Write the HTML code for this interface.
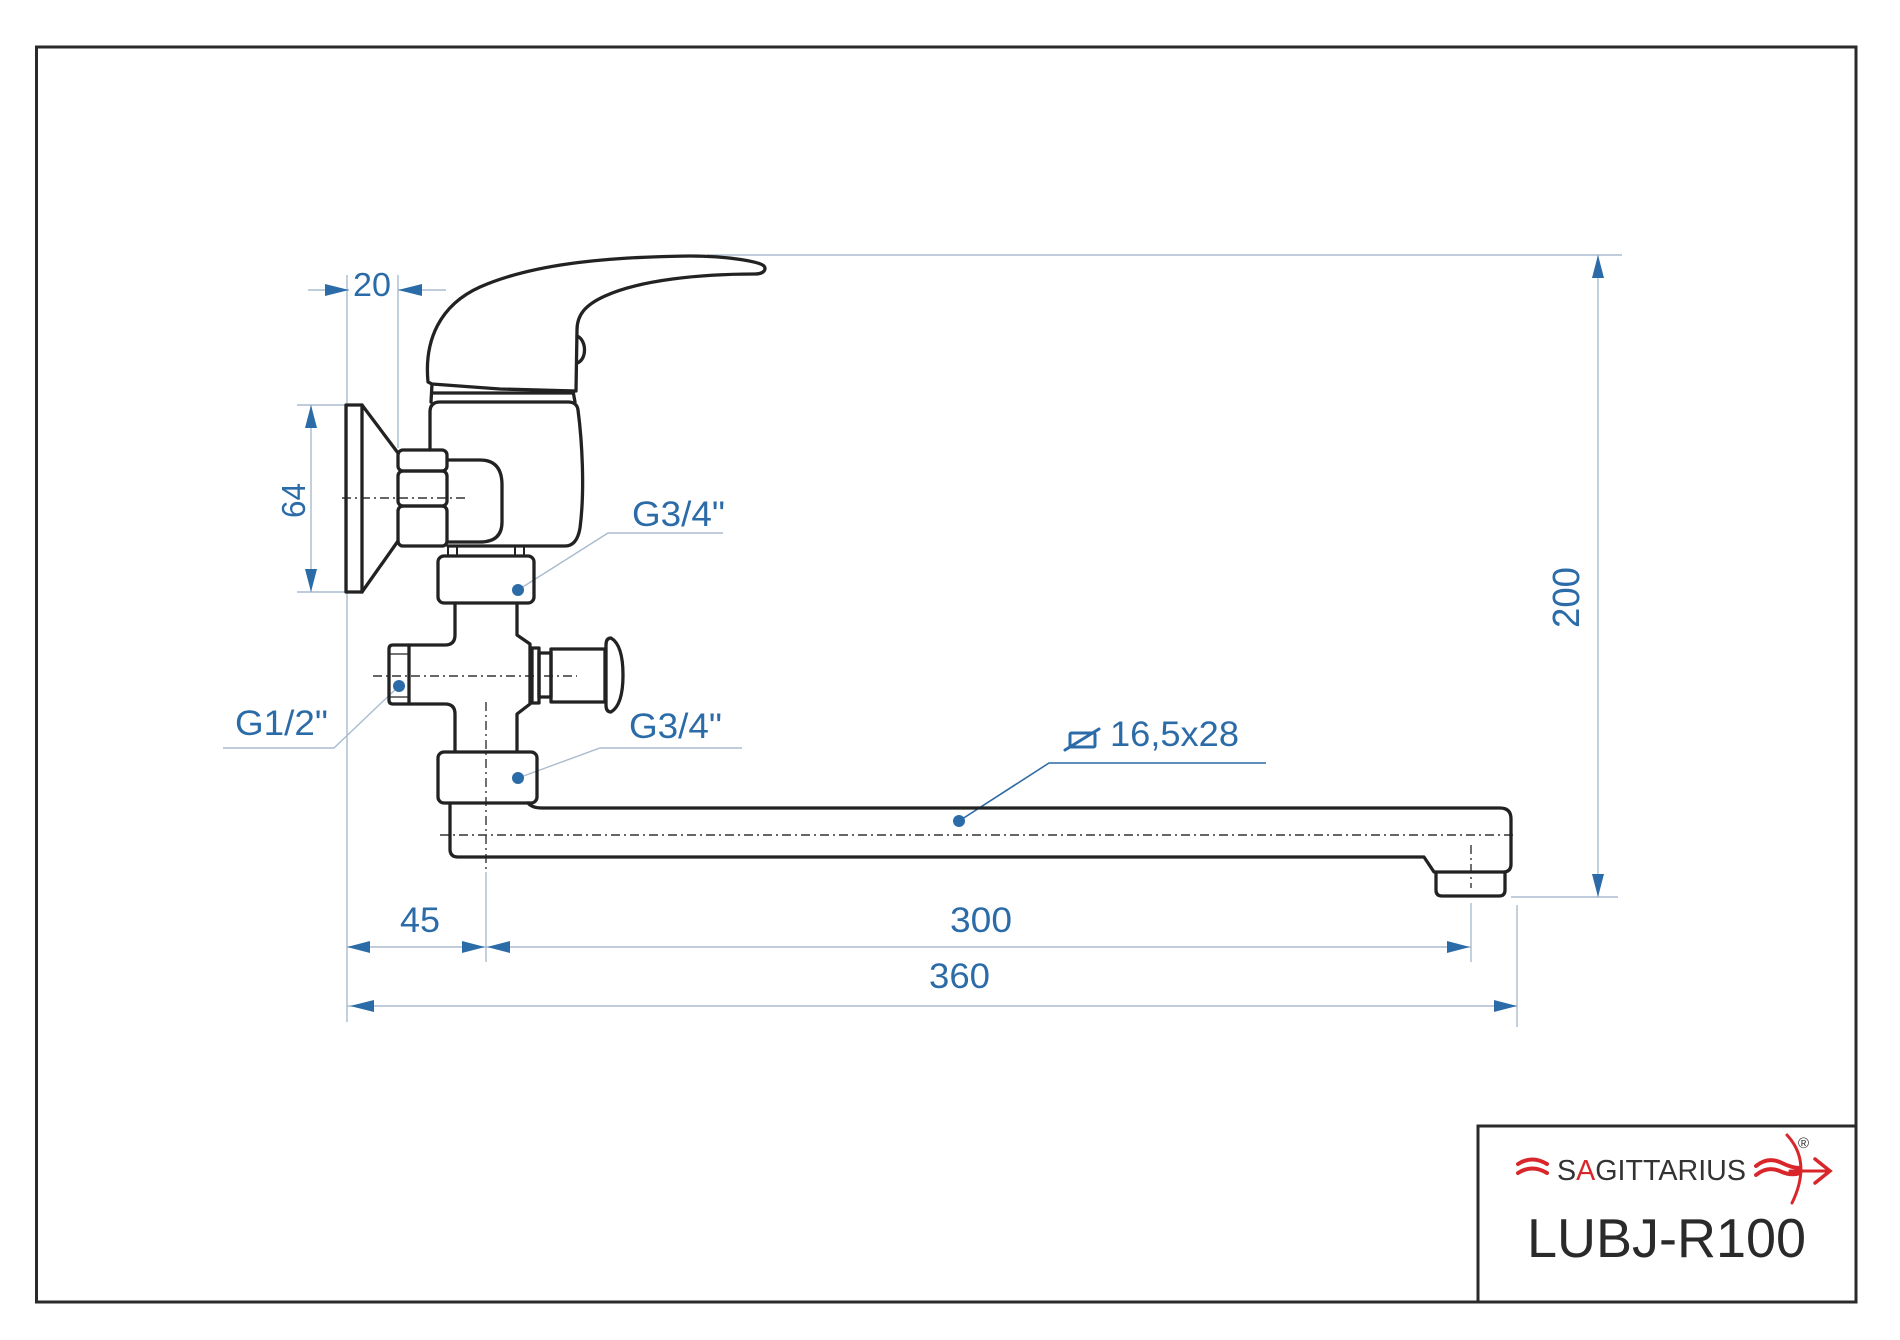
<!DOCTYPE html>
<html>
<head>
<meta charset="utf-8">
<style>
html,body{margin:0;padding:0;background:#fff;}
svg{display:block;}
text{font-family:"Liberation Sans",Arial,sans-serif;}
</style>
</head>
<body>
<svg width="1900" height="1340" viewBox="0 0 1900 1340" xmlns="http://www.w3.org/2000/svg">
<rect x="0" y="0" width="1900" height="1340" fill="#fff"/>
<!-- frame -->
<rect x="36.5" y="47" width="1819.5" height="1255" fill="none" stroke="#2a2a2a" stroke-width="3"/>
<rect x="1478" y="1126" width="378" height="176" fill="none" stroke="#2a2a2a" stroke-width="3"/>

<!-- dimension / extension lines -->
<g stroke="#a9bccf" stroke-width="1.4" fill="none">
  <line x1="308" y1="290" x2="349" y2="290"/>
  <line x1="398" y1="290" x2="446" y2="290"/>
  <line x1="347" y1="275" x2="347" y2="1022"/>
  <line x1="398" y1="275" x2="398" y2="448"/>
  <line x1="297" y1="405" x2="346" y2="405"/>
  <line x1="297" y1="592" x2="346" y2="592"/>
  <line x1="311" y1="405" x2="311" y2="592"/>
  <line x1="707" y1="255" x2="1622" y2="255"/>
  <line x1="1511" y1="897" x2="1618" y2="897"/>
  <line x1="1598" y1="255" x2="1598" y2="897"/>
  <line x1="347" y1="947" x2="1471" y2="947"/>
  <line x1="347" y1="1006" x2="1517" y2="1006"/>
  <line x1="486" y1="872" x2="486" y2="962"/>
  <line x1="1471" y1="903" x2="1471" y2="962"/>
  <line x1="1517" y1="905" x2="1517" y2="1027"/>
  <polyline points="518,590 608,533 723,533"/>
  <polyline points="399,686 334,748 223,748"/>
  <polyline points="518,778 600,748 742,748"/>
</g>
<polyline points="959,821 1049,763 1266,763" fill="none" stroke="#2d6aa5" stroke-width="1.6"/>

<!-- arrowheads -->
<g fill="#2b6ca8">
  <polygon points="349,290 325,284 325,296"/>
  <polygon points="398,290 422,284 422,296"/>
  <polygon points="311,405 305,428 317,428"/>
  <polygon points="311,592 305,569 317,569"/>
  <polygon points="1598,255 1592,278 1604,278"/>
  <polygon points="1598,897 1592,874 1604,874"/>
  <polygon points="347,947 370,941 370,953"/>
  <polygon points="485,947 462,941 462,953"/>
  <polygon points="487,947 510,941 510,953"/>
  <polygon points="1470,947 1447,941 1447,953"/>
  <polygon points="350,1006 374,1000 374,1012"/>
  <polygon points="1517,1006 1494,1000 1494,1012"/>
  <circle cx="518" cy="590" r="6"/>
  <circle cx="399" cy="686" r="6"/>
  <circle cx="518" cy="778" r="6"/>
  <circle cx="959" cy="821" r="6"/>
</g>

<!-- centerlines -->
<g stroke="#333" stroke-width="1.4" fill="none" stroke-dasharray="9 4 2 4">
  <line x1="342" y1="498" x2="468" y2="498"/>
  <line x1="373" y1="676" x2="577" y2="676"/>
  <line x1="486" y1="702" x2="486" y2="870"/>
  <line x1="440" y1="835" x2="1515" y2="835"/>
  <line x1="1471" y1="845" x2="1471" y2="888"/>
</g>

<!-- faucet outline -->
<g stroke="#222" stroke-width="3.3" fill="none" stroke-linejoin="round" stroke-linecap="round">
  <path d="M428,382 C424,340 440,305 480,287 C530,265 600,257 690,256 C730,256 760,262 764,266 C767,270 763,274 755,274 C700,274 640,280 605,296 C585,305 577,315 577,330 L576,391 L500,389 L432,384 Z"/>
  <path d="M577,336 C587,340 587,360 577,363"/>
  <path d="M432,384 L431,402"/>
  <line x1="432" y1="393" x2="573" y2="393"/>
  <line x1="573" y1="391" x2="575" y2="402"/>
  <path d="M430,450 L430,412 Q430,402 440,402 L568,402 Q577,402 578,410 C582,440 585,490 580,528 Q577,546 565,546 L448,546"/>
  <path d="M448,460 L480,460 Q502,460 502,485 L502,522 Q502,542 480,542 L448,542"/>
  <rect x="346" y="405" width="16" height="187"/>
  <line x1="362" y1="405" x2="398" y2="453"/>
  <line x1="362" y1="592" x2="398" y2="541"/>
  <rect x="398" y="450" width="49" height="21" rx="5"/>
  <rect x="398" y="471" width="49" height="35" rx="5"/>
  <rect x="398" y="506" width="49" height="40" rx="5"/>
  <rect x="448" y="546" width="9" height="10" stroke-width="2"/>
  <rect x="515" y="546" width="9" height="10" stroke-width="2"/>
  <rect x="438" y="556" width="96" height="47" rx="6"/>
  <path d="M455,603 L455,635 Q455,645 445,645 L409,645"/>
  <path d="M409,704 L445,704 Q455,704 455,714 L455,752"/>
  <path d="M517,603 L517,635 L530,644 L530,704 L517,714 L517,752"/>
  <path d="M409,645 L393,645 Q389,645 389,649 L389,700 Q389,704 393,704 L409,704 Z"/>
  <line x1="391" y1="654" x2="407" y2="654" stroke-width="1.3"/>
  <line x1="391" y1="697" x2="407" y2="697" stroke-width="1.3"/>
  <rect x="532" y="648" width="7" height="55"/>
  <rect x="539" y="653" width="12" height="44"/>
  <rect x="551" y="649" width="54" height="53"/>
  <path d="M606,645 Q606,638 611,638 Q623,645 623,675 Q623,705 611,712 Q606,712 606,705 Z"/>
  <rect x="438" y="752" width="99" height="51" rx="6"/>
  <path d="M528,803 Q532,808 542,808 L1500,808 Q1511,808 1511,819 L1511,864 Q1511,872 1503,872 L1434,872 L1424,857 L458,857 Q450,857 450,849 L450,803"/>
  <path d="M1436,872 L1436,890 Q1436,896 1442,896 L1499,896 Q1505,896 1505,890 L1505,872"/>
</g>

<!-- diameter symbol -->
<g stroke="#2b6ca8" stroke-width="3" fill="none" stroke-linecap="round">
  <rect x="1070" y="733" width="25" height="14" rx="1.5"/>
  <line x1="1065" y1="750" x2="1099" y2="729"/>
</g>

<!-- labels -->
<g fill="#2b6ca8" font-size="35">
  <text x="353" y="296" font-size="33" textLength="38" lengthAdjust="spacingAndGlyphs">20</text>
  <text x="632" y="526" textLength="93" lengthAdjust="spacingAndGlyphs">G3/4"</text>
  <text x="235" y="735" textLength="93" lengthAdjust="spacingAndGlyphs">G1/2"</text>
  <text x="629" y="738" textLength="93" lengthAdjust="spacingAndGlyphs">G3/4"</text>
  <text x="1110" y="746" textLength="129" lengthAdjust="spacingAndGlyphs">16,5x28</text>
  <text x="400" y="932" textLength="40" lengthAdjust="spacingAndGlyphs">45</text>
  <text x="950" y="932" textLength="62" lengthAdjust="spacingAndGlyphs">300</text>
  <text x="929" y="988" textLength="61" lengthAdjust="spacingAndGlyphs">360</text>
  <text transform="translate(305,518) rotate(-90)" font-size="33" textLength="35" lengthAdjust="spacingAndGlyphs">64</text>
  <text transform="translate(1579,628) rotate(-90)" font-size="38" textLength="61" lengthAdjust="spacingAndGlyphs">200</text>
</g>

<!-- logo -->
<g fill="none" stroke="#d9262b" stroke-width="4" stroke-linecap="round">
  <path d="M1518,1164 Q1532,1155 1547,1164"/>
  <path d="M1518,1173 Q1532,1164 1547,1173"/>
  <path d="M1756,1166 Q1768,1156 1782,1163 Q1792,1168 1800,1168"/>
  <path d="M1756,1175 Q1768,1165 1782,1172 Q1792,1176 1800,1173"/>
  <path d="M1787,1135 Q1812,1162 1792,1203" stroke-width="3"/>
  <line x1="1790" y1="1171" x2="1829" y2="1171" stroke-width="3"/>
  <polyline points="1815,1159 1830,1171 1815,1183" stroke-width="3.5"/>
</g>
<text x="1557" y="1180" font-size="29" fill="#333" textLength="189" lengthAdjust="spacingAndGlyphs">S<tspan fill="#d9262b">A</tspan>GITTARIUS</text>
<text x="1798" y="1148" font-size="15" fill="#333">®</text>
<text x="1527" y="1257" font-size="55" fill="#2a2a2a" textLength="279" lengthAdjust="spacingAndGlyphs">LUBJ-R100</text>
</svg>
</body>
</html>
